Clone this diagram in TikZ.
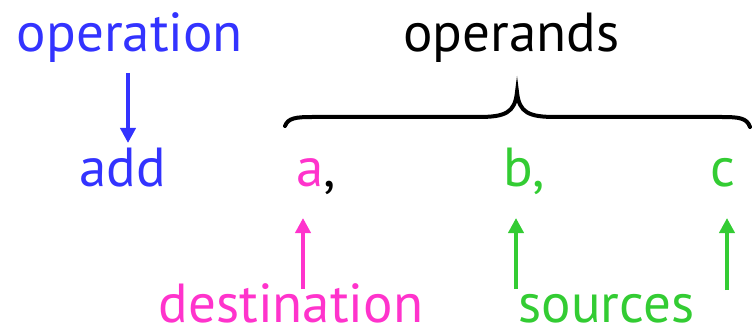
\documentclass[tikz,border=0pt]{standalone}
\usepackage{fontspec}
\setmainfont{PT Sans}
\usetikzlibrary{arrows.meta}
\definecolor{opblue}{RGB}{51,51,255}
\definecolor{dmag}{RGB}{255,51,204}
\definecolor{sgreen}{RGB}{51,204,51}
\tikzset{
  lbl/.style={inner sep=0pt, anchor=base, font=\fontsize{55}{60}\selectfont},
  arr/.style={line width=4.5pt, -{Triangle[width=15pt,length=15pt]}},
}
\begin{document}
\begin{tikzpicture}[x=1pt,y=1pt]
\useasboundingbox (0,0) rectangle (752,327);
% texts (y = 327 - pixel y)
\node[lbl, text=opblue] (operation) at (130,275) {operation};
\node[lbl] (operands) at (511.5,275) {operands};
\node[lbl, text=opblue] (add) at (122.5,140) {add};
\node[lbl, anchor=base west] (a) at (296,140) {\textcolor{dmag}{a},};
\node[lbl, anchor=base west, text=sgreen] (b) at (503,140) {b,};
\node[lbl, text=sgreen] (c) at (722.5,140) {c};
\node[lbl, text=dmag, text depth=0pt] (destination) at (291,4.5) {destination};
\node[lbl, text=sgreen, text depth=0pt] (sources) at (606.5,4.5) {sources};
% arrow endpoints
\coordinate (opS) at (128,254);
\coordinate (addN) at (128,184);
\coordinate (destN) at (303,38);
\coordinate (aS) at (303,109);
\coordinate (srcN1) at (516,38);
\coordinate (bS) at (516,109);
\coordinate (srcN2) at (727,37);
\coordinate (cS) at (727,109);
\draw[arr, opblue] (opS) -- (addN);
\draw[arr, dmag] (destN) -- (aS);
\draw[arr, sgreen] (srcN1) -- (bS);
\draw[arr, sgreen] (srcN2) -- (cS);
% brace
\coordinate (bl) at (285,201);
\coordinate (tip) at (517,235);
\coordinate (br) at (750,200);
\draw[line width=4pt, line cap=round] (bl) .. controls (288,209) and (296,210) .. (312,210)
  -- (478,210) .. controls (505,210) and (515,214) .. (tip)
  .. controls (519,214) and (529,210) .. (556,210)
  -- (722,210) .. controls (739,210) and (747,209) .. (br);
\end{tikzpicture}
\end{document}
